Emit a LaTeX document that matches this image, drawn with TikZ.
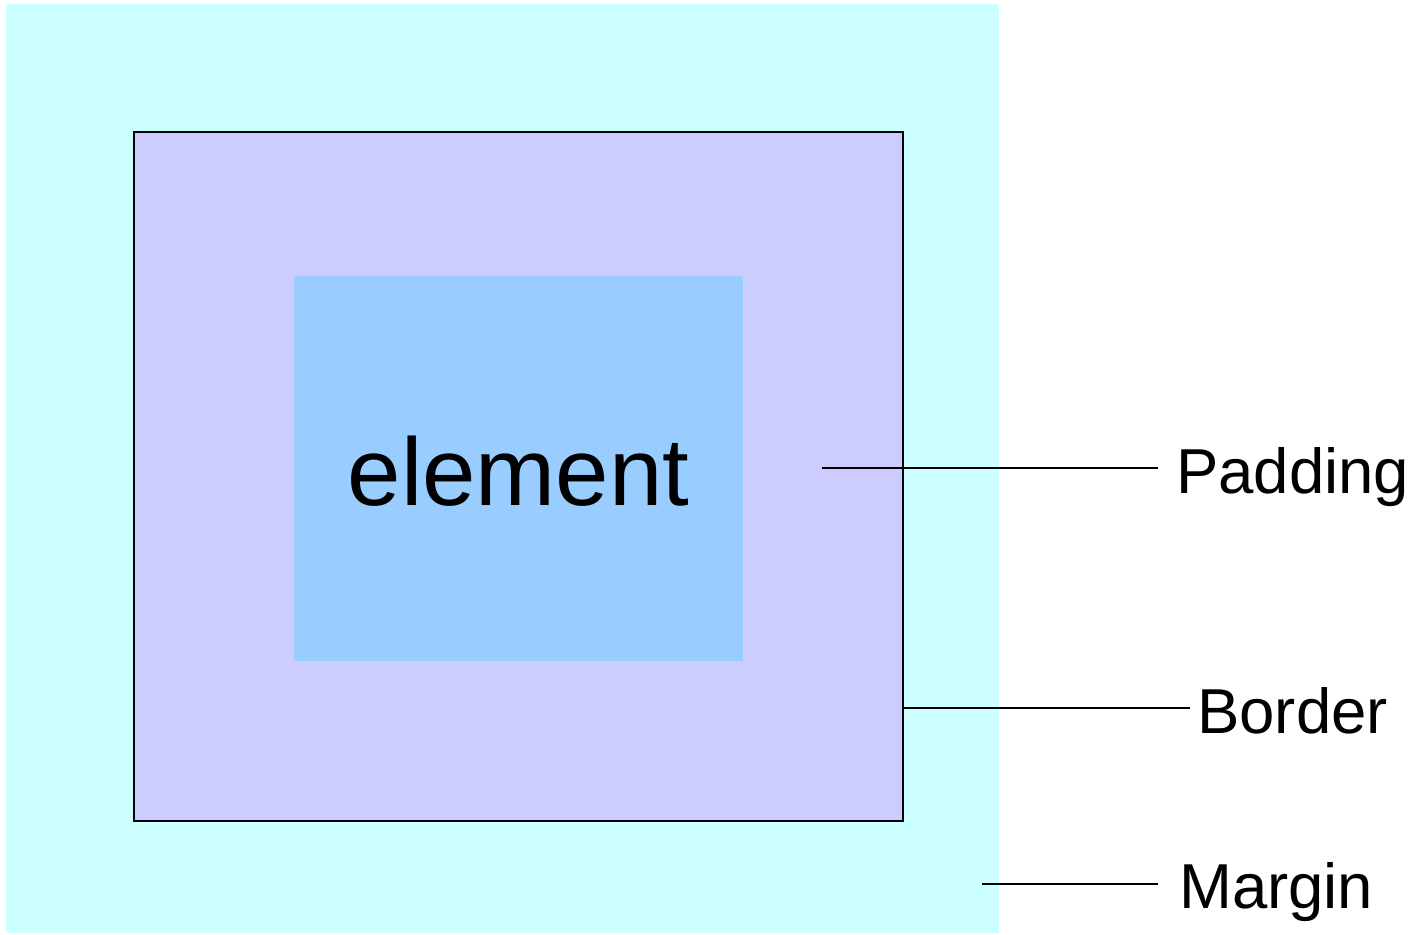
\documentclass[tikz,border=0pt]{standalone}
\usepackage{fontspec}
\setmainfont{Liberation Sans}
\definecolor{margincol}{HTML}{CCFFFF}
\definecolor{bordercol}{HTML}{CCCCFF}
\definecolor{elemcol}{HTML}{99CCFF}
\tikzset{
  boxfill/.style={inner sep=0pt, outer sep=0pt, rectangle},
  lbl/.style={anchor=base west, inner sep=0pt, font=\fontsize{63.5}{63.5}\selectfont},
  leader/.style={line width=2pt, black}
}
\begin{document}
\begin{tikzpicture}[x=1pt,y=-1pt]
\useasboundingbox (0,0) rectangle (1418,934);
\node[boxfill, fill=margincol, minimum width=993pt, minimum height=929pt, anchor=north west] (margin) at (6,4) {};
\node[boxfill, fill=bordercol, draw=black, line width=2pt, minimum width=769pt, minimum height=689pt, anchor=north west] (border) at (134,132) {};
\node[boxfill, fill=elemcol, minimum width=449pt, minimum height=385pt, anchor=north west] (elem) at (294,276) {};
\node[anchor=base, inner sep=0pt, font=\fontsize{96}{96}\selectfont] (elemtext) at (518.5,505) {element};
\node[lbl] (padding) at (1176,493) {Padding};
\node[lbl] (borderlbl) at (1197,733) {Border};
\node[lbl] (marginlbl) at (1179,908) {Margin};
\coordinate (p1) at (822,468);
\coordinate (p2) at (1158,468);
\coordinate (b1) at (903,708);
\coordinate (b2) at (1190,708);
\coordinate (m1) at (982,884);
\coordinate (m2) at (1158,884);
\draw[leader] (p1) -- (p2);
\draw[leader] (b1) -- (b2);
\draw[leader] (m1) -- (m2);
\end{tikzpicture}
\end{document}
